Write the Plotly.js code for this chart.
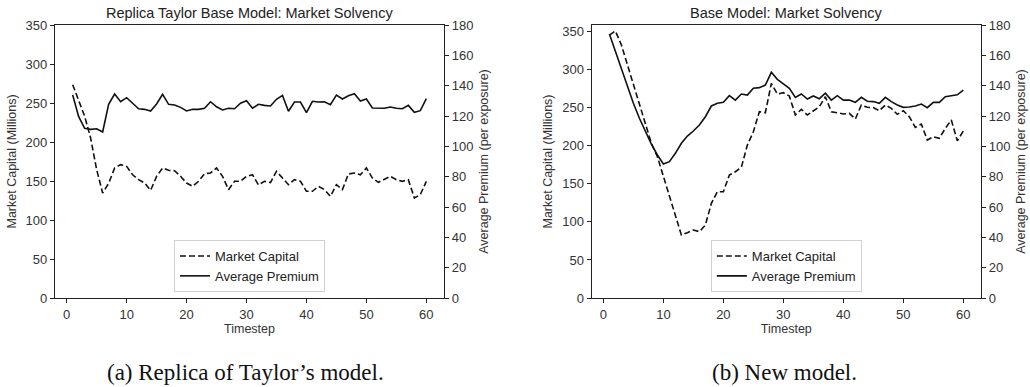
<!DOCTYPE html>
<html><head><meta charset="utf-8">
<script src="https://cdn.plot.ly/plotly-3.0.1.min.js"></script>
<style>html,body{margin:0;padding:0;background:#fff}#chart{width:1030px;height:387px}</style>
</head><body><div id="chart"></div>
<script>
const timesteps = Array.from({length: 60}, (_, i) => i + 1);

const replicaCapital = [273.5,254,233,205,164.5,134.6,147,166.7,171,168.8,158,151.7,147.4,138,156,166.7,163.7,163.2,156,147.4,143.2,149.6,159.4,160.3,166.7,156,138.9,149.6,149.6,156,
  158,145,149.6,148,162.4,153.8,145.3,151.7,149.6,136.8,136.8,143.2,138.9,130.3,145.3,138.9,159,160.3,158,166.7,153.8,148.3,151.7,156,151.7,149.6,151.7,128.2,132.5,149.6];
const replicaPremium = [133.8,119.6,111.9,111.2,111.6,109.5,127.7,134.5,129.4,132.1,128.4,124.8,124.4,123.3,127.9,134.3,127.7,127.3,125.7,123.3,124.4,124.4,125.1,129.4,126.1,124,125.1,124.8,128.4,130.1,
  125.1,127.7,127,126.6,131,133.6,123.1,129.2,129.2,122.2,129.7,129.2,129.4,127.5,133.8,131.2,133.4,134.7,129.9,131.2,125.3,125.1,125.1,125.9,125.1,124.8,127,122.4,123.5,131.4];

const newCapital = [345.6,350.9,332.5,306,282,255.8,229.5,203.3,185.7,159.4,133.1,106.8,82.8,85.8,89.4,87.2,95.9,124.4,139.7,139.7,161.6,166,171.7,201,218.5,244.8,243.5,282,268,269.8,
  265.4,240.5,248,240.5,246.1,251.4,264.5,244.8,243.5,241.8,242.7,235.2,253.6,250.6,250.2,246.1,253.6,249.3,241.4,246.1,238.2,224.3,228.6,207.6,212,209.9,223,233.9,206.7,219.4];
const newPremium = [174,162.4,150.8,139.3,128.4,118.5,109.7,101.5,94.3,88.4,89.9,95.4,102,106.8,110.1,114.1,119.5,126.6,128.4,129,133.4,130.5,134.5,133.8,138.3,138.7,140.4,148.8,144.2,141.1,
  138.3,132.3,134.5,131.2,133.2,131.4,135,130.5,133.4,130.5,130.5,129,132.3,129.7,129.5,128.4,132.3,129.5,127.3,125.7,125.9,126.6,127.9,125.5,129,129,132.7,133.4,134,137.1];

const chartTitles = ["Replica Taylor Base Model: Market Solvency", "Base Model: Market Solvency"];
const captions = ["(a) Replica of Taylor’s model.", "(b) New model."];
const seriesNames = ["Market Capital", "Average Premium"];
const xTickVals = [0,10,20,30,40,50,60];
const capTickVals = [0,50,100,150,200,250,300,350];
const premTickVals = [0,20,40,60,80,100,120,140,160,180];

const W = 1030, H = 387;
const fontFam = '"Liberation Sans", Arial, sans-serif';
const serifFam = '"Liberation Serif", "Times New Roman", serif';
const tickFont = {family: fontFam, size: 13, color: '#333'};
const titleFont = {family: fontFam, size: 12.5, color: '#333'};
const lineCol = '#111';

function trace(y, xa, ya, dashed, name, legend) {
  return {x: timesteps, y: y, xaxis: xa, yaxis: ya, type: 'scatter', mode: 'lines', name: name,
    legend: legend, showlegend: true,
    line: {color: lineCol, width: 1.6, dash: dashed ? '6px,3px' : 'solid'}};
}

const data = [
  trace(replicaCapital, 'x', 'y', true, seriesNames[0], 'legend'),
  trace(replicaPremium, 'x', 'y2', false, seriesNames[1], 'legend'),
  trace(newCapital, 'x2', 'y3', true, seriesNames[0], 'legend2'),
  trace(newPremium, 'x2', 'y4', false, seriesNames[1], 'legend2')
];

const dL = [55/W, 444/W], dR = [591.7/W, 981/W];
const dY = [1 - 298/H, 1 - 25/H];

const axisCommon = {showline: true, linecolor: '#222', linewidth: 1.2, ticks: 'outside', ticklen: 4,
  tickcolor: '#222', tickwidth: 1, tickfont: tickFont, showgrid: false, zeroline: false, automargin: false};

function xAxis(domain, anchor) {
  return Object.assign({}, axisCommon, {domain: domain, anchor: anchor, range: [-1.95, 62.95],
    tickvals: xTickVals, mirror: true,
    title: {text: 'Timestep', font: titleFont, standoff: 3}});
}
function yCap(domain, anchor, top) {
  return Object.assign({}, axisCommon, {domain: domain, anchor: anchor, range: [0, top],
    tickvals: capTickVals,
    title: {text: 'Market Capital (Millions)', font: titleFont, standoff: 6}});
}
function yPrem(overlay, anchor) {
  return Object.assign({}, axisCommon, {overlaying: overlay, anchor: anchor, side: 'right',
    range: [0, 180], tickvals: premTickVals,
    title: {text: 'Average Premium (per exposure)', font: titleFont, standoff: 6}});
}
function legendAt(xc) {
  return {x: xc, y: 1 - 292/H, xanchor: 'center', yanchor: 'bottom', bgcolor: 'rgba(255,255,255,0.9)',
    bordercolor: '#d0d0d0', borderwidth: 1, font: {family: fontFam, size: 13, color: '#222'},
    tracegroupgap: 0, itemwidth: 30};
}
function textAnn(text, xc, ypx, font) {
  return {text: text, x: xc / W, y: 1 - ypx / H, xref: 'paper', yref: 'paper', showarrow: false,
    xanchor: 'center', yanchor: 'middle', font: font};
}

const layout = {
  width: W, height: H, margin: {l: 0, r: 0, t: 0, b: 0}, paper_bgcolor: '#fff', plot_bgcolor: '#fff',
  showlegend: true,
  xaxis: xAxis(dL, 'y'), yaxis: yCap(dY, 'x', 350), yaxis2: yPrem('y', 'x'),
  xaxis2: xAxis(dR, 'y3'), yaxis3: yCap(dY, 'x2', 358.8), yaxis4: yPrem('y3', 'x2'),
  legend: legendAt((55 + 444) / 2 / W), legend2: legendAt((591.7 + 981) / 2 / W),
  annotations: [
    textAnn(chartTitles[0], (55 + 444) / 2, 13, {family: fontFam, size: 14.5, color: '#222'}),
    textAnn(chartTitles[1], (591.7 + 981) / 2, 13, {family: fontFam, size: 14.5, color: '#222'}),
    textAnn(captions[0], 245, 372, {family: serifFam, size: 23, color: '#111'}),
    textAnn(captions[1], 784, 372, {family: serifFam, size: 23, color: '#111'})
  ]
};

Plotly.newPlot('chart', data, layout, {staticPlot: true, displayModeBar: false});
</script></body></html>
